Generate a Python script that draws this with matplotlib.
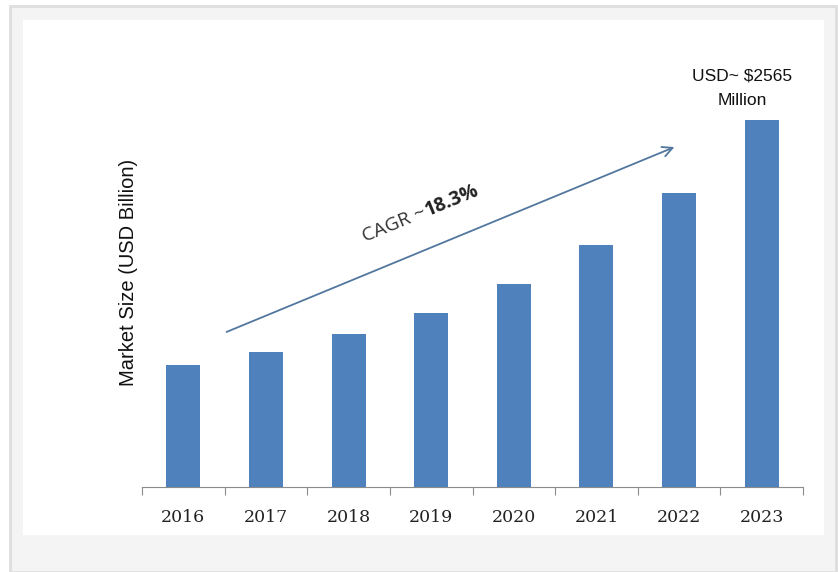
import matplotlib.pyplot as plt
from matplotlib.patches import Rectangle

years = ['2016', '2017', '2018', '2019', '2020', '2021', '2022', '2023']
market_size = [853, 944, 1069, 1216, 1419, 1691, 2055, 2565]
top_label = 'USD~ $2565\nMillion'

W, H = 838, 572
fig = plt.figure(figsize=(W / 100, H / 100), dpi=100)
fig.patch.set_facecolor('white')

# background frame: gray panel with border, white card inside
fig.add_artist(Rectangle((10 / W, 0), 826 / W, 1 - 6 / H, transform=fig.transFigure,
                         facecolor='#f4f4f4', edgecolor='#dedede', linewidth=2, zorder=-3))
fig.add_artist(Rectangle((23 / W, 1 - 535 / H), 801 / W, 515 / H, transform=fig.transFigure,
                         facecolor='white', edgecolor='none', zorder=-2))

ax = fig.add_axes([142 / W, 1 - 487 / H, 661 / W, 447 / H])
ax.set_facecolor('none')
x = range(len(years))
ax.bar(x, market_size, width=0.41, color='#4f81bd', zorder=3)
ax.set_xlim(-0.5, len(years) - 0.5)
ax.set_ylim(0, 2565 * 447 / 367)

for s in ['top', 'right', 'left']:
    ax.spines[s].set_visible(False)
ax.spines['bottom'].set_color('#8c8c8c')
ax.set_yticks([])
ax.set_xticks([i - 0.5 for i in range(len(years) + 1)], minor=False)
ax.set_xticklabels([])
ax.tick_params(axis='x', which='major', length=6, color='#8c8c8c', direction='out')
ax.set_xticks(list(x), minor=True)
ax.set_xticklabels(years, minor=True, fontfamily='DejaVu Serif', fontsize=12.5, color='#222222')
ax.tick_params(axis='x', which='minor', length=0, pad=16)

fig.text(128 / W, 1 - 272 / H, 'Market Size (USD Billion)', rotation=90, ha='center', va='center',
         fontfamily='Liberation Sans', fontsize=14.5, color='#111111')

# CAGR arrow
ax.annotate('', xy=(677 / W, 1 - 146 / H), xytext=(224 / W, 1 - 333 / H),
            xycoords='figure fraction', textcoords='figure fraction',
            arrowprops=dict(arrowstyle='->', color='#52779f', lw=1.3, mutation_scale=18))
fig.text(365 / W, 1 - 242 / H, 'CAGR ~', rotation=22.4, rotation_mode='anchor',
         fontfamily='Open Sans', fontsize=14, color='#333333', ha='left', va='baseline')
fig.text(428 / W, 1 - 216 / H, '18.3%', rotation=22.4, rotation_mode='anchor',
         fontfamily='Open Sans', fontsize=14, fontweight='bold', color='#222222',
         ha='left', va='baseline')

fig.text(742 / W, 1 - 108 / H, top_label, ha='center', va='bottom',
         fontfamily='Liberation Sans', fontsize=12.5, color='#111111', linespacing=1.75)

fig.savefig('out.png', dpi=100)
